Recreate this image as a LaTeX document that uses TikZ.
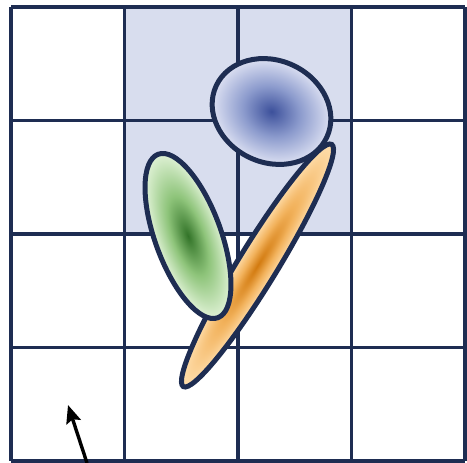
\documentclass[tikz,border=0pt]{standalone}
\usetikzlibrary{arrows.meta}
\definecolor{gridcol}{RGB}{30,45,82}
\definecolor{cellfill}{RGB}{216,221,238}
\definecolor{blueIn}{RGB}{60,80,155}
\definecolor{blueMid}{RGB}{140,155,205}
\definecolor{blueOut}{RGB}{220,224,242}
\definecolor{greenIn}{RGB}{50,115,40}
\definecolor{greenMid}{RGB}{142,196,122}
\definecolor{greenOut}{RGB}{224,242,214}
\definecolor{orangeIn}{RGB}{210,122,15}
\definecolor{orangeMid}{RGB}{242,178,92}
\definecolor{orangeOut}{RGB}{255,222,172}
\pgfdeclareradialshading{blueblob}{\pgfpoint{0bp}{0bp}}{color(0bp)=(blueIn); color(12bp)=(blueMid); color(25bp)=(blueOut); color(50bp)=(blueOut)}
\pgfdeclareradialshading{greenblob}{\pgfpoint{0bp}{0bp}}{color(0bp)=(greenIn); color(12bp)=(greenMid); color(25bp)=(greenOut); color(50bp)=(greenOut)}
\pgfdeclareradialshading{orangeblob}{\pgfpoint{0bp}{0bp}}{color(0bp)=(orangeIn); color(12bp)=(orangeMid); color(25bp)=(orangeOut); color(50bp)=(orangeOut)}
\begin{document}
\begin{tikzpicture}[x=1pt,y=1pt,
  gridline/.style={draw=gridcol,line width=3.4pt},
  blob/.style={draw=gridcol,line width=5pt},
  pointer/.style={draw=black,line width=3.4pt,-{Stealth[length=18pt,width=15pt,inset=3pt]}}]
\useasboundingbox (0,0) rectangle (467,463);
% shaded cells
\fill[cellfill] (124.5,229) rectangle (351.5,456);
% grid
\foreach \gx in {11,124.5,238,351.5,465}{
  \draw[gridline] (\gx,2) -- (\gx,456);
}
\foreach \gy in {2,115.5,229,342.5,456}{
  \draw[gridline] (11,\gy) -- (465,\gy);
}
% orange ellipse
\begin{scope}[transform canvas={shift={(257.5,197.5)},rotate=58.5}]
  \shade[blob,shading=orangeblob] (0,0) ellipse [x radius=142,y radius=19.5];
\end{scope}
% blue ellipse
\begin{scope}[transform canvas={shift={(271.5,351.5)},rotate=-25}]
  \shade[blob,shading=blueblob] (0,0) ellipse [x radius=61,y radius=51];
\end{scope}
% green ellipse
\begin{scope}[transform canvas={shift={(188,227)},rotate=-70}]
  \shade[blob,shading=greenblob] (0,0) ellipse [x radius=87,y radius=33];
\end{scope}
% arrow
\coordinate (tail) at (87,0);
\coordinate (tip) at (68,58);
\draw[pointer] (tail) -- (tip);
\end{tikzpicture}
\end{document}
